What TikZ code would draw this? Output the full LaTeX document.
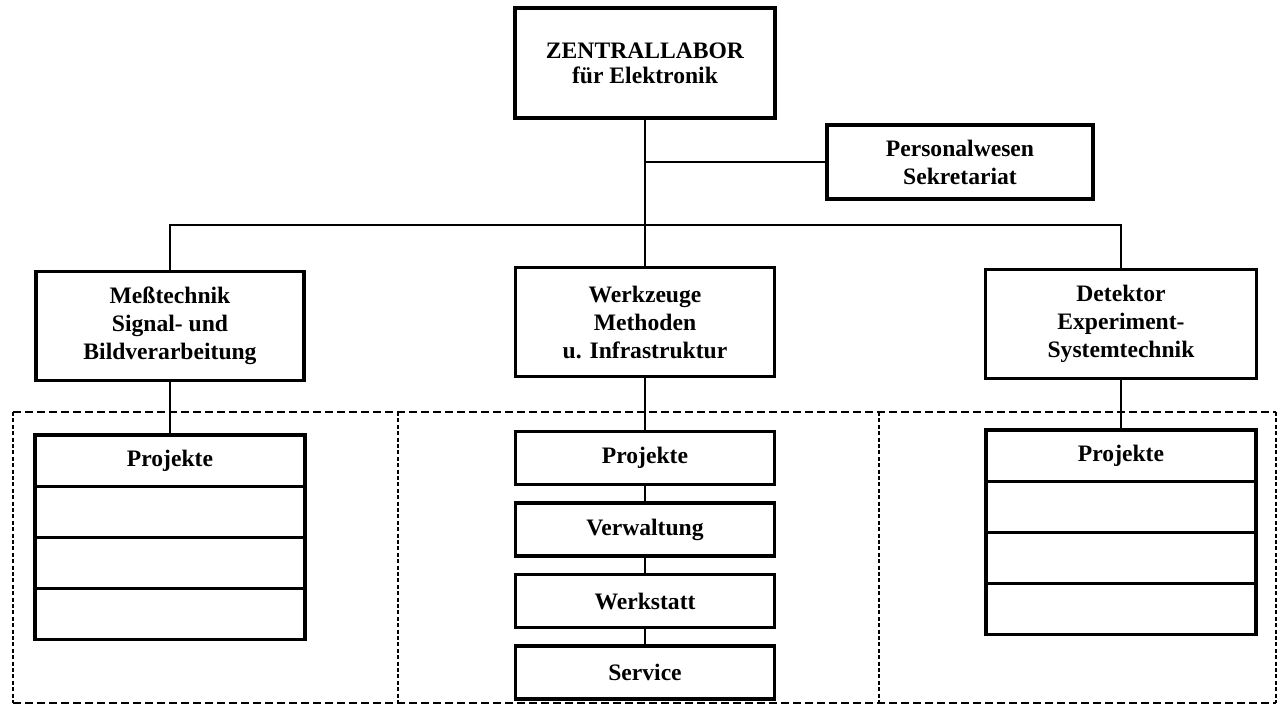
\documentclass[tikz,border=0pt]{standalone}
\usepackage{fontspec}
\setmainfont{Liberation Serif}
\usetikzlibrary{positioning}

\tikzset{
  unit/.style={draw, line width=1.6pt, align=center, inner sep=0pt, outer sep=0pt,
    font=\fontsize{11.8}{14}\selectfont\bfseries},
  abt/.style={unit, minimum height=54.5pt},
  cell/.style={unit, minimum width=135pt, minimum height=25.6pt},
  link/.style={line width=0.8pt},
  frame/.style={line width=0.6pt, dash pattern=on 4pt off 2pt},
  sep/.style={line width=0.6pt, dash pattern=on 2pt off 1.2pt}
}

\begin{document}
\begin{tikzpicture}[x=0.5pt, y=-0.5pt]
\useasboundingbox (0,0) rectangle (1282,707);

\node[unit, minimum width=130pt, minimum height=55pt] (zl) at (645,63) {ZENTRALLABOR\\[-1.5pt]für Elektronik};
\node[unit, minimum width=133pt, minimum height=37pt] (pw) at (960,162) {Personalwesen\\Sekretariat};

\node[abt, minimum width=134pt] (mt) at (170,326) {Meßtechnik\\Signal- und\\Bildverarbeitung};
\node[abt, minimum width=129.5pt] (wz) at (645,322) {Werkzeuge\\Methoden\\u. Infrastruktur};
\node[abt, minimum width=135.5pt] (dt) at (1121,324) {Detektor\\Experiment-\\Systemtechnik};

\node[cell] (lp1) at (170,460.6) {Projekte};
\node[cell] (rp1) at (1121,455.6) {Projekte};
\foreach \i [count=\j from 2] in {1,2,3}
{
    \node[cell, below=0pt of lp\i] (lp\j) {};
    \node[cell, below=0pt of rp\i] (rp\j) {};
}

\foreach \n/\t [count=\k from 0] in {mp/Projekte, mv/Verwaltung, mw/Werkstatt, ms/Service}
    {\node[cell, minimum width=129.5pt, minimum height=26.5pt] (\n) at (645,458+71.5*\k) {\t};}

\coordinate (bus) at (645,225);
\draw[link] (zl) -- (wz);
\draw[link] (zl |- pw) -- (pw);
\draw[link] (mt) |- (bus) -| (dt);
\draw[link] (mt) -- (lp1);
\draw[link] (wz) -- (mp);
\draw[link] (dt) -- (rp1);
\draw[link] (mp) -- (mv) (mv) -- (mw) (mw) -- (ms);

\draw[frame] (13,412) -- (1276,412) (13,703) -- (1276,703);
\foreach \x in {13,398,879,1276}
    {\draw[sep] (\x,412) -- (\x,703);}
\end{tikzpicture}
\end{document}
